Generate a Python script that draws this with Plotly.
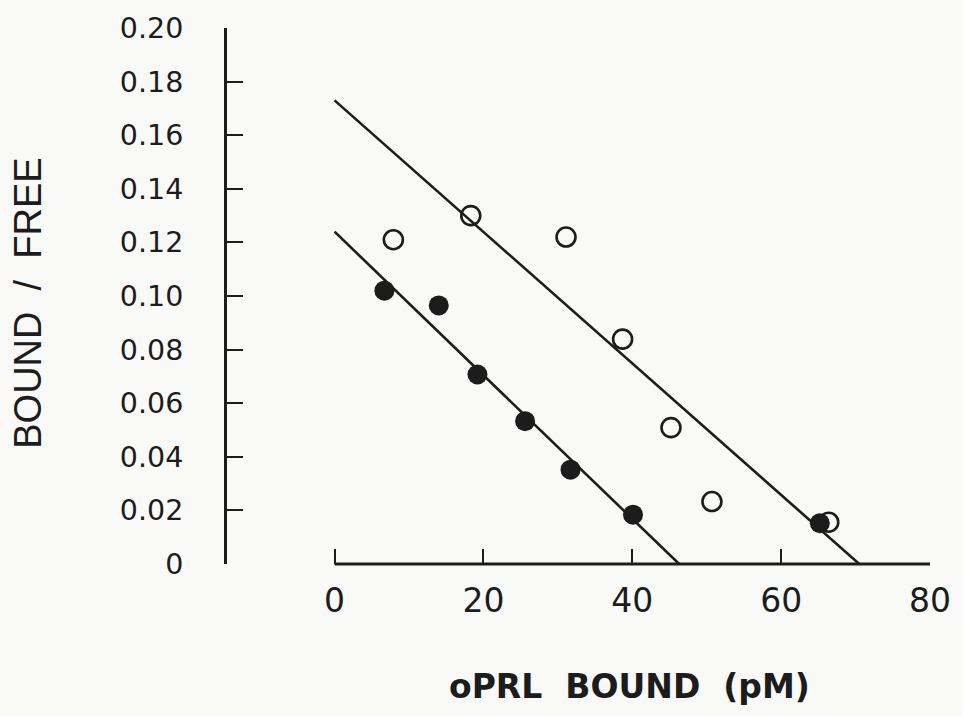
import plotly.graph_objects as go

# Data
closed_x = [6.7, 14.0, 19.2, 25.6, 31.7, 40.1, 65.2]
closed_y = [0.102, 0.0965, 0.0707, 0.0533, 0.0352, 0.0184, 0.0152]
open_x = [7.9, 18.3, 31.1, 38.7, 45.2, 50.7, 66.4]
open_y = [0.121, 0.130, 0.122, 0.0839, 0.0509, 0.0233, 0.0156]

# Fitted regression lines (endpoints: y-intercept and x-intercept)
closed_line_x = [0.0, 46.3]
closed_line_y = [0.124, 0.0]
open_line_x = [0.0, 70.5]
open_line_y = [0.173, 0.0]

x_ticks = [0, 20, 40, 60, 80]
y_ticks = [0, 0.02, 0.04, 0.06, 0.08, 0.10, 0.12, 0.14, 0.16, 0.18, 0.20]
y_tick_text = ["0", "0.02", "0.04", "0.06", "0.08", "0.10", "0.12", "0.14", "0.16", "0.18", "0.20"]

INK = "#1c1c1c"
BG = "#f9f9f8"
FONT = "Liberation Sans, Arial, sans-serif"
TICKFONT = "DejaVu Sans, sans-serif"

W, H = 963, 716
L, R, T, B = 227, 30, 20, 152
PW, PH = W - L - R, H - T - B

fig = go.Figure()
fig.add_trace(go.Scatter(x=open_line_x, y=open_line_y, mode="lines",
                         line=dict(color=INK, width=2.6), showlegend=False))
fig.add_trace(go.Scatter(x=closed_line_x, y=closed_line_y, mode="lines",
                         line=dict(color=INK, width=2.6), showlegend=False))
fig.add_trace(go.Scatter(x=closed_x, y=closed_y, mode="markers",
                         marker=dict(symbol="circle", size=20, color=INK,
                                     line=dict(width=0)),
                         cliponaxis=False, showlegend=False))
fig.add_trace(go.Scatter(x=open_x, y=open_y, mode="markers",
                         marker=dict(symbol="circle-open", size=19, color=INK,
                                     line=dict(width=2.6, color=INK)),
                         cliponaxis=False, showlegend=False))

# x axis baseline spanning only the tick range
fig.add_shape(type="line", xref="x", yref="paper",
              x0=x_ticks[0], x1=x_ticks[-1], y0=0, y1=0,
              line=dict(color=INK, width=3))

fig.update_layout(
    width=W, height=H,
    margin=dict(l=L, r=R, t=T, b=B),
    paper_bgcolor=BG, plot_bgcolor=BG,
    font=dict(family=FONT, color=INK),
    xaxis=dict(range=[-14.45, 80], showgrid=False, zeroline=False, showline=False,
               tickmode="array", tickvals=x_ticks, ticktext=[str(v) for v in x_ticks],
               ticks="inside", ticklen=15, tickwidth=2, tickcolor=INK,
               tickfont=dict(size=33, family=TICKFONT, color=INK),
               ticklabelstandoff=14),
    yaxis=dict(range=[0, 0.2], showgrid=False, zeroline=False, showline=True,
               linecolor=INK, linewidth=3,
               tickmode="array", tickvals=y_ticks, ticktext=y_tick_text,
               ticks="inside", ticklen=16, tickwidth=2, tickcolor=INK,
               tickfont=dict(size=28.5, family=TICKFONT, color=INK),
               ticklabelstandoff=35),
    annotations=[
        dict(text="BOUND  /  FREE", xref="paper", yref="paper",
             x=(27 - L) / PW, y=(H - B - 299) / PH, xanchor="center", yanchor="middle",
             textangle=-90, showarrow=False,
             font=dict(size=38, family=FONT, color=INK)),
        dict(text="oPRL  BOUND  (pM)", xref="paper", yref="paper",
             x=(631 - L) / PW, y=-(688 - (H - B)) / PH, xanchor="center", yanchor="middle",
             showarrow=False,
             font=dict(size=33, family="DejaVu Sans, sans-serif", color=INK, weight="bold")),
    ],
)

fig.write_html("out.html", config={"displayModeBar": False},
               post_script="document.body.style.margin='0px';")
